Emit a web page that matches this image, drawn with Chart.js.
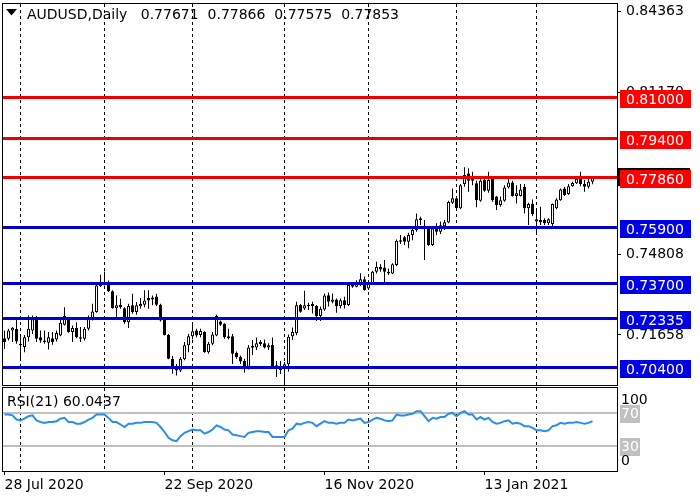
<!DOCTYPE html>
<html>
<head>
<meta charset="utf-8">
<script src="https://cdn.jsdelivr.net/npm/chart.js@4.4.1/dist/chart.umd.min.js"></script>
<style>
  html, body { margin: 0; padding: 0; background: #fff; }
  #wrap { position: relative; width: 700px; height: 500px; }
  #priceChart { position: absolute; left: 0; top: 0; }
  #rsiChart { position: absolute; left: 0; top: 386px; }
</style>
</head>
<body>
<div id="wrap">
  <canvas id="priceChart" width="700" height="386"></canvas>
  <canvas id="rsiChart" width="700" height="114"></canvas>
</div>
<script>
// AUDUSD daily bars, 28 Jul 2020 .. 19 Feb 2021
var symbol = 'AUDUSD,Daily';

var opens = [
  0.7153, 0.7151, 0.7183, 0.7190, 0.7131, 0.7118, 0.7157, 0.7183, 0.7227, 0.7157,
  0.7144, 0.7135, 0.7153, 0.7148, 0.7164, 0.7206, 0.7229, 0.7177, 0.7193, 0.7157,
  0.7151, 0.7190, 0.7229, 0.7256, 0.7358, 0.7367, 0.7371, 0.7337, 0.7271, 0.7284,
  0.7271, 0.7216, 0.7282, 0.7256, 0.7278, 0.7284, 0.7311, 0.7305, 0.7317, 0.7284,
  0.7227, 0.7166, 0.7072, 0.7035, 0.7026, 0.7070, 0.7125, 0.7161, 0.7183, 0.7166,
  0.7177, 0.7098, 0.7131, 0.7164, 0.7219, 0.7210, 0.7161, 0.7161, 0.7096, 0.7079,
  0.7064, 0.7041, 0.7122, 0.7117, 0.7139, 0.7133, 0.7117, 0.7126, 0.7047, 0.7038,
  0.7034, 0.7051, 0.7161, 0.7172, 0.7283, 0.7270, 0.7279, 0.7287, 0.7279, 0.7240,
  0.7266, 0.7322, 0.7296, 0.7305, 0.7279, 0.7302, 0.7283, 0.7362, 0.7355, 0.7366,
  0.7384, 0.7348, 0.7368, 0.7414, 0.7434, 0.7431, 0.7414, 0.7407, 0.7440, 0.7538,
  0.7549, 0.7532, 0.7558, 0.7578, 0.7624, 0.7593, 0.7584, 0.7519, 0.7584, 0.7571,
  0.7593, 0.7607, 0.7685, 0.7702, 0.7663, 0.7758, 0.7800, 0.7771, 0.7761, 0.7693,
  0.7774, 0.7732, 0.7781, 0.7709, 0.7676, 0.7693, 0.7745, 0.7764, 0.7711, 0.7711,
  0.7748, 0.7663, 0.7680, 0.7620, 0.7617, 0.7617, 0.7604, 0.7601, 0.7663, 0.7695,
  0.7741, 0.7719, 0.7750, 0.7761, 0.7785, 0.7758, 0.7748, 0.77671
];
var highs = [
  0.7183, 0.7190, 0.7197, 0.7229, 0.7157, 0.7166, 0.7242, 0.7242, 0.7240, 0.7183,
  0.7183, 0.7177, 0.7177, 0.7183, 0.7236, 0.7275, 0.7236, 0.7203, 0.7216, 0.7197,
  0.7197, 0.7242, 0.7288, 0.7363, 0.7402, 0.7415, 0.7380, 0.7341, 0.7321, 0.7308,
  0.7275, 0.7288, 0.7328, 0.7295, 0.7311, 0.7341, 0.7341, 0.7321, 0.7328, 0.7288,
  0.7229, 0.7170, 0.7083, 0.7052, 0.7079, 0.7138, 0.7170, 0.7206, 0.7190, 0.7190,
  0.7180, 0.7138, 0.7177, 0.7245, 0.7223, 0.7212, 0.7190, 0.7170, 0.7101, 0.7085,
  0.7072, 0.7126, 0.7146, 0.7156, 0.7146, 0.7148, 0.7133, 0.7156, 0.7064, 0.7064,
  0.7060, 0.7168, 0.7195, 0.7296, 0.7287, 0.7339, 0.7292, 0.7296, 0.7283, 0.7277,
  0.7329, 0.7332, 0.7329, 0.7309, 0.7309, 0.7316, 0.7368, 0.7371, 0.7381, 0.7408,
  0.7395, 0.7378, 0.7418, 0.7453, 0.7444, 0.7460, 0.7427, 0.7447, 0.7541, 0.7558,
  0.7554, 0.7567, 0.7584, 0.7643, 0.7630, 0.7617, 0.7593, 0.7591, 0.7604, 0.7611,
  0.7617, 0.7693, 0.7741, 0.7706, 0.7758, 0.7824, 0.7820, 0.7807, 0.7771, 0.7777,
  0.7781, 0.7807, 0.7785, 0.7711, 0.7709, 0.7754, 0.7790, 0.7771, 0.7754, 0.7758,
  0.7758, 0.7685, 0.7698, 0.7663, 0.7669, 0.7624, 0.7624, 0.7682, 0.7702, 0.7741,
  0.7748, 0.7758, 0.7767, 0.7785, 0.7807, 0.7774, 0.7781, 0.77866
];
var lows = [
  0.7111, 0.7144, 0.7138, 0.7131, 0.7072, 0.7098, 0.7140, 0.7170, 0.7138, 0.7135,
  0.7131, 0.7109, 0.7127, 0.7140, 0.7161, 0.7203, 0.7174, 0.7138, 0.7153, 0.7138,
  0.7144, 0.7183, 0.7223, 0.7253, 0.7354, 0.7360, 0.7334, 0.7269, 0.7229, 0.7269,
  0.7210, 0.7193, 0.7249, 0.7245, 0.7269, 0.7275, 0.7269, 0.7282, 0.7279, 0.7219,
  0.7164, 0.7070, 0.7013, 0.7007, 0.7020, 0.7066, 0.7098, 0.7148, 0.7157, 0.7157,
  0.7096, 0.7092, 0.7125, 0.7161, 0.7201, 0.7151, 0.7148, 0.7052, 0.7072, 0.7052,
  0.7017, 0.7030, 0.7087, 0.7107, 0.7122, 0.7113, 0.7107, 0.7038, 0.7001, 0.7012,
  0.6978, 0.7021, 0.7146, 0.7165, 0.7253, 0.7264, 0.7264, 0.7250, 0.7221, 0.7221,
  0.7261, 0.7277, 0.7290, 0.7253, 0.7270, 0.7270, 0.7279, 0.7351, 0.7353, 0.7358,
  0.7339, 0.7342, 0.7365, 0.7407, 0.7414, 0.7374, 0.7401, 0.7405, 0.7436, 0.7523,
  0.7519, 0.7506, 0.7538, 0.7571, 0.7597, 0.7460, 0.7515, 0.7515, 0.7558, 0.7562,
  0.7578, 0.7604, 0.7680, 0.7659, 0.7659, 0.7748, 0.7728, 0.7754, 0.7667, 0.7689,
  0.7728, 0.7724, 0.7689, 0.7656, 0.7669, 0.7689, 0.7741, 0.7709, 0.7682, 0.7709,
  0.7643, 0.7597, 0.7633, 0.7564, 0.7597, 0.7597, 0.7597, 0.7584, 0.7659, 0.7693,
  0.7711, 0.7715, 0.7748, 0.7758, 0.7750, 0.7728, 0.7741, 0.77575
];
var closes = [
  0.7138, 0.7183, 0.7194, 0.7140, 0.7125, 0.7157, 0.7190, 0.7227, 0.7151, 0.7144,
  0.7138, 0.7157, 0.7138, 0.7173, 0.7214, 0.7240, 0.7177, 0.7193, 0.7157, 0.7151,
  0.7190, 0.7229, 0.7258, 0.7360, 0.7371, 0.7373, 0.7337, 0.7271, 0.7282, 0.7275,
  0.7216, 0.7279, 0.7256, 0.7282, 0.7287, 0.7301, 0.7301, 0.7313, 0.7284, 0.7223,
  0.7166, 0.7072, 0.7043, 0.7026, 0.7072, 0.7125, 0.7161, 0.7180, 0.7164, 0.7181,
  0.7098, 0.7131, 0.7168, 0.7240, 0.7206, 0.7157, 0.7153, 0.7092, 0.7079, 0.7062,
  0.7035, 0.7117, 0.7116, 0.7133, 0.7130, 0.7117, 0.7125, 0.7043, 0.7034, 0.7028,
  0.7051, 0.7159, 0.7177, 0.7282, 0.7257, 0.7282, 0.7283, 0.7279, 0.7240, 0.7269,
  0.7321, 0.7296, 0.7305, 0.7279, 0.7302, 0.7283, 0.7362, 0.7355, 0.7371, 0.7384,
  0.7342, 0.7368, 0.7414, 0.7434, 0.7423, 0.7414, 0.7407, 0.7443, 0.7536, 0.7532,
  0.7532, 0.7558, 0.7578, 0.7620, 0.7617, 0.7584, 0.7519, 0.7584, 0.7571, 0.7596,
  0.7608, 0.7688, 0.7702, 0.7663, 0.7754, 0.7794, 0.7771, 0.7779, 0.7695, 0.7771,
  0.7732, 0.7774, 0.7695, 0.7676, 0.7695, 0.7745, 0.7764, 0.7711, 0.7722, 0.7737,
  0.7663, 0.7680, 0.7640, 0.7611, 0.7608, 0.7604, 0.7620, 0.7680, 0.7698, 0.7737,
  0.7715, 0.7750, 0.7762, 0.7779, 0.7758, 0.7748, 0.7767, 0.77853
];

// RSI(21) per bar
var rsiValues = [
  68, 68, 67, 62, 61, 63, 66, 67, 61, 59,
  58, 59, 59, 60, 63, 64, 59, 59, 57, 57,
  59, 62, 64, 68, 68, 68, 64, 59, 59, 56,
  53, 57, 57, 58, 58, 59, 59, 59, 58, 53,
  47, 40, 37, 36, 42, 46, 48, 50, 49, 49,
  45, 47, 50, 55, 53, 50, 49, 44, 43, 42,
  41, 46, 47, 48, 48, 47, 47, 41, 41, 41,
  41, 49, 51, 57, 56, 58, 59, 58, 54, 57,
  60, 58, 58, 57, 58, 58, 62, 61, 62, 63,
  58, 59, 62, 64, 63, 61, 60, 61, 68, 67,
  67, 68, 69, 72, 72, 66, 60, 64, 63, 65,
  65, 69, 70, 66, 70, 72, 68, 68, 62, 65,
  62, 64, 59, 57, 58, 60, 61, 57, 58, 57,
  54, 54, 52, 49, 49, 48, 49, 54, 55, 58,
  57, 58, 58, 59, 58, 57, 58, 60.0437
];

var levels = [0.81, 0.794, 0.7786, 0.759, 0.737, 0.72335, 0.704];
var priceTicks = [0.84363, 0.81170, 0.74808, 0.71658];
var rsiLevels = [70, 30];
var monthStarts = [4, 25, 47, 70, 91, 113, 133];   // first bar of Aug .. Feb
var dateTicks = [0, 40, 80, 120];
var dateLabels = ['28 Jul 2020', '22 Sep 2020', '16 Nov 2020', '13 Jan 2021'];

var FONT = '14px "DejaVu Sans"';
var last = closes.length - 1;
var xMin = -0.375, xMax = 153.125;   // 4px per bar, a few empty bars on the right

Chart.defaults.font.family = '"DejaVu Sans"';
Chart.defaults.font.size = 14;
Chart.defaults.color = '#000';

var bodies = [], wicks = [], bodyColors = [];
for (var i = 0; i < closes.length; i++) {
    bodies.push({ x: i, y: [opens[i], closes[i]] });
    wicks.push({ x: i, y: [lows[i], highs[i]] });
    bodyColors.push(closes[i] >= opens[i] ? '#ffffff' : '#000000');
}

function noPadding(s) {
    s.paddingTop = 0;
    s.paddingBottom = 0;
    s.paddingLeft = 0;
    s.paddingRight = 0;
}

function drawMonthLines(chart) {
    var ctx = chart.ctx, a = chart.chartArea, xs = chart.scales.x;
    ctx.save();
    ctx.strokeStyle = '#000';
    ctx.lineWidth = 1;
    ctx.setLineDash([3, 3]);
    monthStarts.forEach(function (m) {
        var px = Math.floor(xs.getPixelForValue(m)) + 0.5;
        ctx.beginPath();
        ctx.moveTo(px, a.top);
        ctx.lineTo(px, a.bottom);
        ctx.stroke();
    });
    ctx.restore();
}

function drawFrame(chart) {
    var ctx = chart.ctx, a = chart.chartArea;
    ctx.save();
    ctx.strokeStyle = '#000';
    ctx.lineWidth = 1;
    ctx.strokeRect(a.left - 0.5, a.top - 0.5, a.right - a.left + 1, a.bottom - a.top + 1);
    ctx.restore();
}

var pricePanel = {
    id: 'pricePanel',
    beforeDraw: function (chart) {
        chart.ctx.fillStyle = '#fff';
        chart.ctx.fillRect(0, 0, chart.width, chart.height);
    },
    beforeDatasetsDraw: drawMonthLines,
    afterDatasetsDraw: function (chart) {
        var ctx = chart.ctx, a = chart.chartArea, ys = chart.scales.y;
        ctx.save();
        // last price marker, mostly hidden behind the level boxes
        var yc = Math.round(ys.getPixelForValue(closes[last]));
        ctx.fillStyle = '#000';
        ctx.fillRect(a.right, yc - 9, 73, 18);
        levels.forEach(function (v) {
            var y = Math.round(ys.getPixelForValue(v));
            ctx.fillStyle = v > closes[last] ? '#ee0000' : '#0000d0';
            ctx.fillRect(a.left, y - 1, a.right - a.left, 3);
            ctx.fillStyle = v > closes[last] ? '#ff0000' : '#0000e6';
            ctx.fillRect(a.right + 3, y - 7, 71, 18);
            ctx.fillStyle = '#fff';
            ctx.font = FONT;
            ctx.textBaseline = 'middle';
            ctx.fillText(v.toFixed(5), a.right + 9, y + 3);
        });
        ctx.restore();
        drawFrame(chart);

        // header
        ctx.save();
        ctx.fillStyle = '#000';
        ctx.beginPath();
        ctx.moveTo(6, 9);
        ctx.lineTo(17, 9);
        ctx.lineTo(11.5, 15.5);
        ctx.closePath();
        ctx.fill();
        ctx.font = FONT;
        ctx.textBaseline = 'middle';
        var ohlc = [opens[last], highs[last], lows[last], closes[last]].map(function (v) { return v.toFixed(5); });
        ctx.fillText(symbol + '   ' + ohlc.join('  '), 27, 15);
        ctx.restore();
    }
};

var rsiPanel = {
    id: 'rsiPanel',
    beforeDraw: function (chart) {
        chart.ctx.fillStyle = '#fff';
        chart.ctx.fillRect(0, 0, chart.width, chart.height);
    },
    beforeDatasetsDraw: function (chart) {
        var ctx = chart.ctx, a = chart.chartArea, ys = chart.scales.y;
        drawMonthLines(chart);
        ctx.save();
        ctx.fillStyle = '#c0c0c0';
        rsiLevels.forEach(function (v) {
            var y = Math.round(ys.getPixelForValue(v));
            ctx.fillRect(a.left, y - 1, a.right - a.left, 2);
        });
        ctx.restore();
    },
    afterDatasetsDraw: function (chart) {
        var ctx = chart.ctx, a = chart.chartArea, ys = chart.scales.y;
        drawFrame(chart);
        ctx.save();
        ctx.font = FONT;
        ctx.textBaseline = 'middle';
        rsiLevels.forEach(function (v) {
            var y = Math.round(ys.getPixelForValue(v));
            ctx.fillStyle = '#c0c0c0';
            ctx.fillRect(a.right + 3, y - 8, 20, 18);
            ctx.fillStyle = '#fff';
            ctx.fillText(String(v), a.right + 4, y + 1);
        });
        ctx.fillStyle = '#000';
        ctx.fillText('100', a.right + 4, ys.getPixelForValue(100) + 12);
        ctx.fillText('0', a.right + 4, ys.getPixelForValue(0) - 10);
        ctx.fillText('RSI(21) ' + rsiValues[last].toFixed(4), 7, a.top + 14);
        ctx.restore();
    }
};

new Chart(document.getElementById('priceChart'), {
    type: 'bar',
    data: {
        datasets: [
            {
                label: 'body',
                data: bodies,
                backgroundColor: bodyColors,
                borderColor: '#000',
                borderWidth: 1,
                borderSkipped: false,
                barThickness: 3,
                minBarLength: 1,
                grouped: false,
                inflateAmount: 0,
                order: 0
            },
            {
                label: 'wick',
                data: wicks,
                backgroundColor: '#000',
                borderWidth: 0,
                barThickness: 1,
                grouped: false,
                inflateAmount: 0,
                order: 1
            }
        ]
    },
    options: {
        responsive: false,
        animation: false,
        layout: { padding: { left: 3, top: 4, right: 0, bottom: 1 } },
        plugins: { legend: { display: false }, tooltip: { enabled: false } },
        scales: {
            x: { type: 'linear', min: xMin, max: xMax, offset: false, display: false },
            y: {
                type: 'linear',
                position: 'right',
                min: 0.69693,
                max: 0.84651,
                afterFit: function (s) { s.width = 83; noPadding(s); },
                afterBuildTicks: function (s) { s.ticks = priceTicks.map(function (v) { return { value: v }; }); },
                ticks: { padding: 5, autoSkip: false, callback: function (v) { return v.toFixed(5); } },
                grid: { drawOnChartArea: false, drawTicks: true, tickLength: 4, color: '#000' },
                border: { display: false }
            }
        }
    },
    plugins: [pricePanel]
});

new Chart(document.getElementById('rsiChart'), {
    type: 'line',
    data: {
        datasets: [{
            label: 'RSI(21)',
            data: rsiValues.map(function (v, i) { return { x: i, y: v }; }),
            borderColor: '#2b8ee6',
            borderWidth: 2,
            pointRadius: 0,
            tension: 0
        }]
    },
    options: {
        responsive: false,
        animation: false,
        layout: { padding: { left: 3, top: 2, right: 0, bottom: 0 } },
        plugins: { legend: { display: false }, tooltip: { enabled: false } },
        scales: {
            x: {
                type: 'linear',
                min: xMin,
                max: xMax,
                afterFit: function (s) { s.height = 29; noPadding(s); },
                afterBuildTicks: function (s) { s.ticks = dateTicks.map(function (v) { return { value: v }; }); },
                ticks: {
                    align: 'start',
                    autoSkip: false,
                    maxRotation: 0,
                    padding: 2,
                    callback: function (v) { return dateLabels[dateTicks.indexOf(v)]; }
                },
                grid: { drawOnChartArea: false, drawTicks: true, tickLength: 4, color: '#000' },
                border: { display: false }
            },
            y: {
                position: 'right',
                min: 0,
                max: 100,
                afterFit: function (s) { s.width = 83; noPadding(s); },
                ticks: { display: false },
                grid: { display: false },
                border: { display: false }
            }
        }
    },
    plugins: [rsiPanel]
});
</script>
</body>
</html>
